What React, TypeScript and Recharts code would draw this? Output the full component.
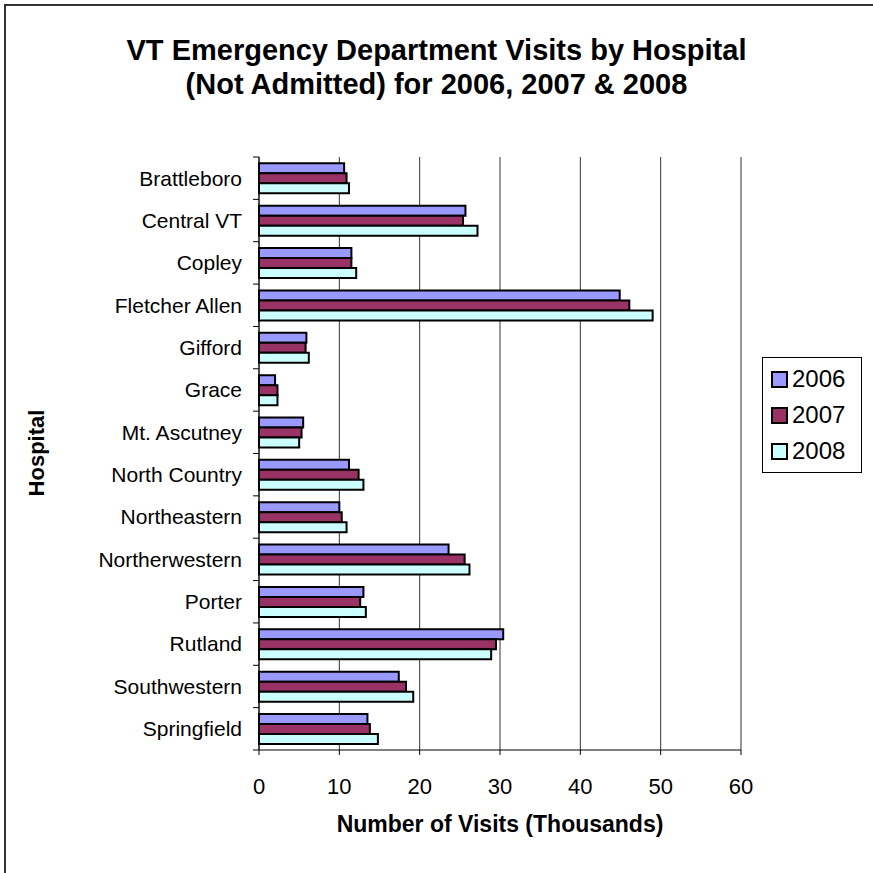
import React from "react";
import {
  BarChart,
  Bar,
  XAxis,
  YAxis,
  CartesianGrid,
  Legend,
} from "recharts";

const hospitals = [
  "Brattleboro",
  "Central VT",
  "Copley",
  "Fletcher Allen",
  "Gifford",
  "Grace",
  "Mt. Ascutney",
  "North Country",
  "Northeastern",
  "Northerwestern",
  "Porter",
  "Rutland",
  "Southwestern",
  "Springfield",
];

const visits2006 = [10.6, 25.7, 11.5, 44.9, 5.9, 2.0, 5.5, 11.2, 10.0, 23.6, 13.0, 30.4, 17.4, 13.5];
const visits2007 = [10.9, 25.4, 11.5, 46.1, 5.8, 2.3, 5.3, 12.4, 10.3, 25.6, 12.6, 29.5, 18.3, 13.8];
const visits2008 = [11.2, 27.2, 12.1, 49.0, 6.2, 2.3, 5.0, 13.0, 10.9, 26.2, 13.3, 28.9, 19.2, 14.8];

const xTicks = [0, 10, 20, 30, 40, 50, 60];

const seriesColors: Record<string, string> = {
  "2006": "#9999FF",
  "2007": "#993366",
  "2008": "#CCFFFF",
};

const FONT = '"Liberation Sans", Arial, sans-serif';

const chartData = hospitals.map((name, i) => ({
  name,
  "2006": visits2006[i],
  "2007": visits2007[i],
  "2008": visits2008[i],
}));

// category label plus a tick mark on the band boundary (Excel style)
function HospitalTick(props: any) {
  const { x, y, payload, index, visibleTicksCount } = props;
  const half = payload && typeof payload.offset === "number" && payload.offset > 0 ? payload.offset : 21.2;
  const axisX = x + 17;
  return (
    <g>
      <line x1={axisX - 6} x2={axisX} y1={y - half} y2={y - half} stroke="#000" />
      {index === visibleTicksCount - 1 && (
        <line x1={axisX - 6} x2={axisX} y1={y + half} y2={y + half} stroke="#000" />
      )}
      <text x={x} y={y} dy="0.35em" textAnchor="end" fontSize={21} fontFamily={FONT} fill="#000">
        {payload.value}
      </text>
    </g>
  );
}

function LegendBox(props: any) {
  const items = props.payload || [];
  return (
    <div
      style={{
        width: 100,
        height: 116,
        boxSizing: "border-box",
        border: "1px solid #000",
        background: "#fff",
        paddingTop: 3,
        fontFamily: FONT,
      }}
    >
      {items.map((it: any) => (
        <div
          key={it.value}
          style={{ display: "flex", alignItems: "center", height: 36, paddingLeft: 8 }}
        >
          <span
            style={{
              display: "inline-block",
              width: 13,
              height: 13,
              border: "2px solid #000",
              background: seriesColors[it.value],
              marginRight: 4,
            }}
          />
          <span style={{ fontSize: 24, lineHeight: "24px", color: "#000" }}>{it.value}</span>
        </div>
      ))}
    </div>
  );
}

export default function App() {
  return (
    <div
      style={{
        position: "absolute",
        left: 0,
        top: 0,
        width: 873,
        height: 873,
        overflow: "hidden",
        background: "#fff",
        fontFamily: FONT,
      }}
    >
      <div
        style={{
          position: "absolute",
          left: 4,
          top: 4,
          width: 900,
          height: 900,
          border: "2px solid #333",
        }}
      />
      <div
        style={{
          position: "absolute",
          left: 0,
          top: 33,
          width: 873,
          textAlign: "center",
          fontSize: 29,
          fontWeight: "bold",
          lineHeight: "34px",
          color: "#000",
        }}
      >
        VT Emergency Department Visits by Hospital
        <br />
        (Not Admitted) for 2006, 2007 &amp; 2008
      </div>
      <BarChart
        width={873}
        height={873}
        data={chartData}
        layout="vertical"
        barCategoryGap="15%"
        barGap={0}
        margin={{ top: 157, right: 132, bottom: 63, left: 0 }}
        style={{ position: "absolute", left: 0, top: 0 }}
      >
        <CartesianGrid horizontal={false} stroke="#333" />
        <XAxis
          type="number"
          domain={[0, 60]}
          ticks={xTicks}
          interval={0}
          height={60}
          axisLine={{ stroke: "#000" }}
          tickLine={{ stroke: "#000" }}
          tickSize={5}
          tickMargin={23}
          tick={{ fontSize: 22, fill: "#000", fontFamily: FONT }}
        />
        <XAxis
          xAxisId="top"
          orientation="top"
          type="number"
          domain={[0, 60]}
          height={0}
          tick={false}
          tickLine={false}
          axisLine={{ stroke: "#808080", strokeWidth: 2 }}
        />
        <YAxis
          type="category"
          dataKey="name"
          width={259}
          interval={0}
          tickSize={6}
          tickMargin={11}
          tickLine={false}
          axisLine={{ stroke: "#000" }}
          tick={<HospitalTick />}
        />
        <YAxis
          yAxisId="r"
          orientation="right"
          type="category"
          dataKey="name"
          width={0}
          tick={false}
          tickLine={false}
          axisLine={{ stroke: "#808080", strokeWidth: 2 }}
        />
        <Legend
          layout="vertical"
          align="center"
          verticalAlign="middle"
          content={<LegendBox />}
          wrapperStyle={{ left: 762, top: 357, width: 100, height: 116 }}
        />
        {["2006", "2007", "2008"].map((k) => (
          <Bar
            key={k}
            dataKey={k}
            fill={seriesColors[k]}
            stroke="#000"
            strokeWidth={2}
            isAnimationActive={false}
          />
        ))}
      </BarChart>
      <div
        style={{
          position: "absolute",
          left: 259,
          top: 813,
          width: 482,
          textAlign: "center",
          fontSize: 23,
          fontWeight: "bold",
          lineHeight: "23px",
          color: "#000",
        }}
      >
        Number of Visits (Thousands)
      </div>
      <div
        style={{
          position: "absolute",
          left: 37 - 100,
          top: 453 - 11,
          width: 200,
          textAlign: "center",
          fontSize: 22,
          fontWeight: "bold",
          lineHeight: "22px",
          color: "#000",
          transform: "rotate(-90deg)",
        }}
      >
        Hospital
      </div>
    </div>
  );
}
